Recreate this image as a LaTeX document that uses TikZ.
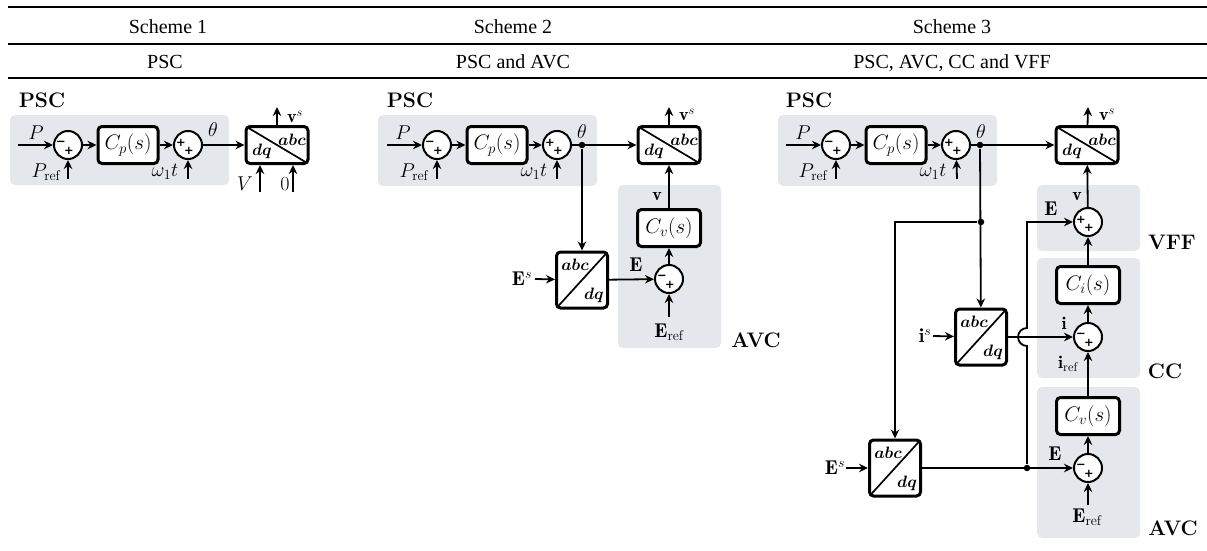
\documentclass[tikz,border=0pt]{standalone}
\usepackage{fix-cm}
\usepackage{fontspec}
\usetikzlibrary{arrows.meta}
\newfontfamily\headfont{Liberation Serif}
\newfontfamily\signfont{DejaVu Sans}
\definecolor{panelgray}{HTML}{E4E7EB}

\tikzset{
    panel/.style={fill=panelgray,rounded corners=5pt},
    rule/.style={-,draw=black,line width=2pt},
    headtext/.style={font=\headfont\fontsize{20}{22}\selectfont,inner sep=0pt,text height=15pt,text depth=2pt},
    tag/.style={font=\fontsize{20}{22}\selectfont,inner sep=0pt},
    smalltag/.style={font=\fontsize{18}{20}\selectfont,inner sep=0pt},
    title/.style={font=\fontsize{21}{22}\selectfont\bfseries,inner sep=0pt},
    sign/.style={font=\signfont\bfseries\fontsize{11.5}{11.5}\selectfont,inner sep=0pt},
    plainbox/.style={draw,fill=white,rounded corners=4pt,line width=3pt,minimum width=60pt,minimum height=37pt,inner sep=0pt,font=\fontsize{21}{22}\selectfont},
    sumbase/.style={circle,draw,fill=white,line width=2pt,minimum size=28pt,inner sep=0pt},
    minussum/.style={sumbase,
        label={[sign,xshift=-7pt,yshift=2pt]center:−},label={[sign,xshift=1pt,yshift=-6pt]center:+}},
    plussum/.style={sumbase,
        label={[sign,xshift=-7pt,yshift=2pt]center:+},label={[sign,xshift=1pt,yshift=-6pt]center:+}},
    convbox/.style={draw,fill=white,rounded corners=4pt,line width=3pt,inner sep=0pt},
    dqbox/.style={convbox,minimum width=62pt,minimum height=37pt,
        path picture={\draw[-,line width=1.7pt] (path picture bounding box.north west) -- (path picture bounding box.south east);},
        label={[corner,xshift=15pt,yshift=5pt]center:$abc$},label={[corner,xshift=-15pt,yshift=-6pt]center:$dq$}},
    abcbox/.style={convbox,minimum width=51pt,minimum height=56pt,
        path picture={\draw[-,line width=1.7pt] (path picture bounding box.south west) -- (path picture bounding box.north east);},
        label={[corner,xshift=-7pt,yshift=15pt]center:$abc$},label={[corner,xshift=12pt,yshift=-15pt]center:$dq$}},
    corner/.style={font=\fontsize{16.5}{18}\selectfont\boldmath,inner sep=0pt},
    dot/.style={circle,fill=black,minimum size=6.5pt,inner sep=0pt},
}

\begin{document}
\begin{tikzpicture}[x=1pt,y=-1pt,->,>={Stealth[length=9pt,width=8.5pt]},line width=1.8pt,node distance=60pt]

    \useasboundingbox (0,0) rectangle (1207,551);

    % table head
    \coordinate (r1a) at (8,7);    \coordinate (r1b) at (1207,7);
    \coordinate (r2a) at (8,44);   \coordinate (r2b) at (1207,44);
    \coordinate (r3a) at (8,78);   \coordinate (r3b) at (1207,78);
    \draw[rule,line width=2.6pt] (r1a) -- (r1b);
    \draw[rule] (r2a) -- (r2b);
    \draw[rule] (r3a) -- (r3b);
    \node[headtext] (h1) at (168,27) {Scheme 1};
    \node[headtext] (h2) at (513,27) {Scheme 2};
    \node[headtext] (h3) at (952,27) {Scheme 3};
    \node[headtext] (m1) at (165,62) {PSC};
    \node[headtext] (m2) at (513,62) {PSC and AVC};
    \node[headtext] (m3) at (952,62) {PSC, AVC, CC and VFF};

    % panels
    \fill[panel] (10,115) rectangle (229,185);
    \fill[panel] (378,115) rectangle (597,186);
    \fill[panel] (618,185) rectangle (721,348);
    \fill[panel] (778,115) rectangle (997,186);
    \fill[panel] (1037,185) rectangle (1140,251);
    \fill[panel] (1037,258) rectangle (1140,378);
    \fill[panel] (1037,387) rectangle (1140,538);

    % scheme 1
    \node[title] (psc1) at (42,100) {PSC};
    \node[minussum] (s11) at (68,145) {};
    \node[plainbox] (cp1) [right of = s11] {$C_p(s)$};
    \node[plussum] (s12) [right of = cp1] {};
    \node[dqbox] (dq1) [right of = s12, xshift=29pt] {};
    \coordinate (in1) at (18,145);
    \coordinate (ref1) at (68,179);
    \coordinate (wt1) at (188,179);
    \coordinate (out1) at (277,107);
    \coordinate (vin) at (260,192);
    \coordinate (zin) at (293,192);
    \node[tag] (lp1) at (36,133) {$P$};
    \node[tag] (lr1) at (46,172) {$P_{\mathrm{ref}}$};
    \node[tag] (lw1) at (165,172) {$\omega_1 t$};
    \node[tag] (lt1) at (213,130) {$\theta$};
    \node[smalltag] (lv1) at (295,117) {$\mathbf{v}^s$};
    \node[tag] (lv0) at (245,184) {$V$};
    \node[tag] (lz0) at (285,184) {$0$};
    \path
        (in1) edge (s11)
        (ref1) edge (s11)
        (s11) edge (cp1)
        (cp1) edge (s12)
        (wt1) edge (s12)
        (s12) edge (dq1)
        (dq1) edge (out1)
        (vin) edge (vin |- dq1.south)
        (zin) edge (zin |- dq1.south)
    ;

    % scheme 2
    \node[title] (psc2) at (410,100) {PSC};
    \node[minussum] (s21) at (437,145) {};
    \node[plainbox] (cp2) [right of = s21] {$C_p(s)$};
    \node[plussum] (s22) [right of = cp2] {};
    \node[dot] (d21) [right of = s22, xshift=-35pt] {};
    \node[dqbox] (dq2) [right of = s22, xshift=52pt] {};
    \node[plainbox,minimum width=63pt] (cv2) [below of = dq2, yshift=-23pt] {$C_v(s)$};
    \node[minussum] (s23) [below of = cv2, yshift=9pt] {};
    \node[abcbox] (ab2) at (582,280) {};
    \coordinate (in2) at (387,145);
    \coordinate (ref2) at (437,179);
    \coordinate (wt2) at (557,179);
    \coordinate (out2) at (669,107);
    \coordinate (es2) at (535,279);
    \coordinate (er2) at (669,317);
    \node[tag] (lp2) at (403,133) {$P$};
    \node[tag] (lr2) at (414,172) {$P_{\mathrm{ref}}$};
    \node[tag] (lw2) at (534,172) {$\omega_1 t$};
    \node[tag] (lt2) at (582,132) {$\theta$};
    \node[smalltag] (lv2) at (687,115) {$\mathbf{v}^s$};
    \node[smalltag] (lc2) at (657,197) {$\mathbf{v}$};
    \node[tag] (le2) at (636,265) {$\mathbf{E}$};
    \node[tag] (ls2) at (522,279) {$\mathbf{E}^s$};
    \node[tag] (lf2) at (669,332) {$\mathbf{E}_{\mathrm{ref}}$};
    \node[title] (avc2) at (756,340) {AVC};
    \path
        (in2) edge (s21)
        (ref2) edge (s21)
        (s21) edge (cp2)
        (cp2) edge (s22)
        (wt2) edge (s22)
        (s22) edge (dq2)
        (d21) edge (ab2)
        (es2) edge (ab2)
        (ab2) edge (s23)
        (er2) edge (s23)
        (s23) edge (cv2)
        (cv2) edge (dq2)
        (dq2) edge (out2)
    ;

    % scheme 3
    \node[title] (psc3) at (809,100) {PSC};
    \node[minussum] (s31) at (836,145) {};
    \node[plainbox] (cp3) [right of = s31] {$C_p(s)$};
    \node[plussum] (s32) [right of = cp3] {};
    \node[dot] (d31) [right of = s32, xshift=-36pt] {};
    \node[dqbox] (dq3) [right of = s32, xshift=71pt] {};
    \node[plussum] (s33) at (1088,222) {};
    \node[plainbox,minimum width=63pt] (ci3) at (1088,285) {$C_i(s)$};
    \node[minussum] (s34) at (1088,337) {};
    \node[plainbox,minimum width=63pt] (cv3) at (1088,416) {$C_v(s)$};
    \node[minussum] (s35) at (1088,468) {};
    \node[dot] (d32) at (981,222) {};
    \node[dot] (d33) at (1027,468) {};
    \node[abcbox] (ab3) at (981,337) {};
    \node[abcbox] (ab4) at (895,468) {};
    \coordinate (in3) at (786,145);
    \coordinate (ref3) at (836,179);
    \coordinate (wt3) at (957,179);
    \coordinate (out3) at (1088,107);
    \coordinate (is3) at (933,336);
    \coordinate (es3) at (846,468);
    \coordinate (er3) at (1088,505);
    \coordinate (jump) at (1027,337);
    \node[tag] (lp3) at (803,133) {$P$};
    \node[tag] (lr3) at (813,172) {$P_{\mathrm{ref}}$};
    \node[tag] (lw3) at (933,172) {$\omega_1 t$};
    \node[tag] (lt3) at (981,132) {$\theta$};
    \node[smalltag] (lv3) at (1107,115) {$\mathbf{v}^s$};
    \node[smalltag] (lc3) at (1077,197) {$\mathbf{v}$};
    \node[tag] (le3) at (1051,209) {$\mathbf{E}$};
    \node[title] (vff) at (1172,242) {VFF};
    \node[smalltag] (li3) at (1064,323) {$\mathbf{i}$};
    \node[smalltag] (lf3) at (1068,364) {$\mathbf{i}_{\mathrm{ref}}$};
    \node[title] (cc) at (1165,371) {CC};
    \node[tag] (ls3) at (925,336) {$\mathbf{i}^s$};
    \node[tag] (le4) at (1055,454) {$\mathbf{E}$};
    \node[tag] (ls4) at (835,468) {$\mathbf{E}^s$};
    \node[tag] (lf4) at (1087,517) {$\mathbf{E}_{\mathrm{ref}}$};
    \node[title] (avc3) at (1173,528) {AVC};
    \path
        (in3) edge (s31)
        (ref3) edge (s31)
        (s31) edge (cp3)
        (cp3) edge (s32)
        (wt3) edge (s32)
        (s32) edge (dq3)
        (d31) edge (ab3)
        (is3) edge (ab3)
        (ab3) edge (s34)
        (es3) edge (ab4)
        (ab4) edge (s35)
        (er3) edge (s35)
        (s35) edge (cv3)
        (cv3) edge (s34)
        (s34) edge (ci3)
        (ci3) edge (s33)
        (s33) edge (dq3)
        (dq3) edge (out3)
    ;
    \draw (d32) -| (ab4);
    \draw (d33) -- ([yshift=-9pt]jump) arc[start angle=270,end angle=90,radius=9pt] |- (s33);

\end{tikzpicture}
\end{document}
